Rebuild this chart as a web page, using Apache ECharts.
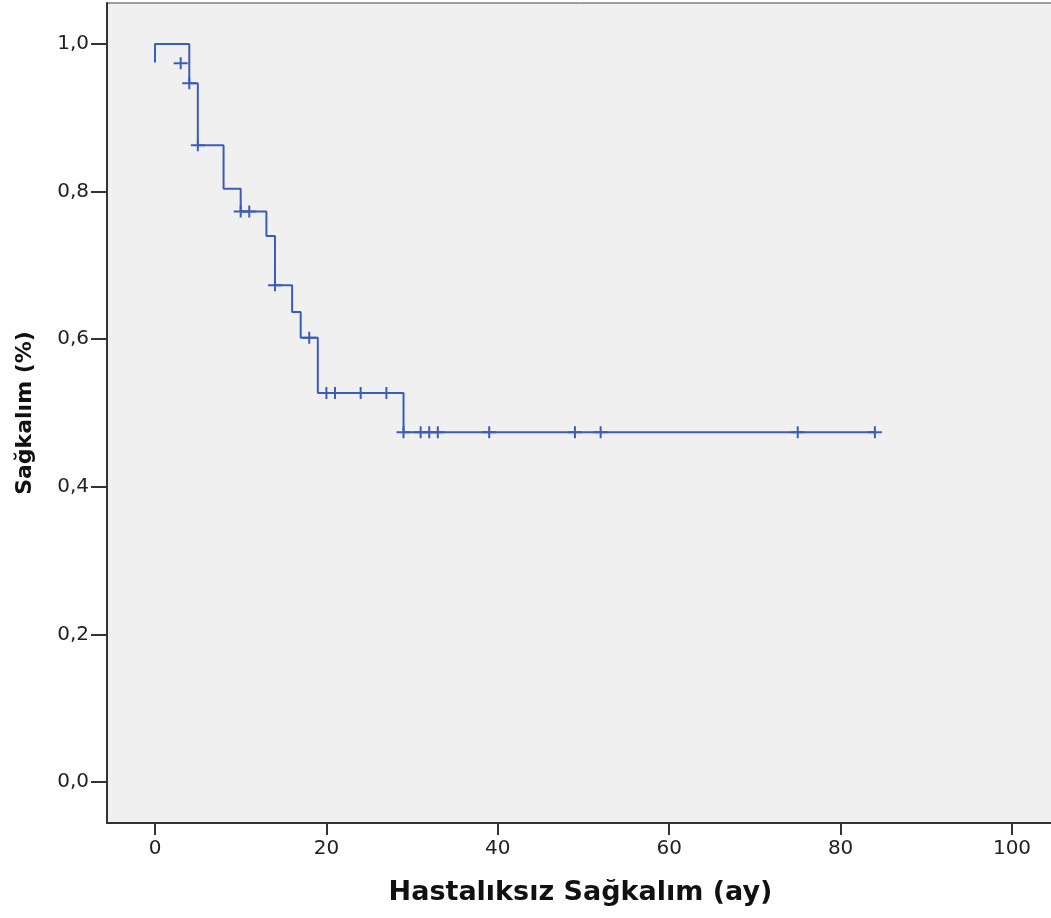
<!DOCTYPE html>
<html>
<head>
<meta charset="utf-8">
<script src="https://cdn.jsdelivr.net/npm/echarts@6/dist/echarts.min.js"></script>
<style>
html,body{margin:0;padding:0;background:#ffffff;overflow:hidden;}
#chart{width:1051px;height:918px;}
</style>
</head>
<body>
<div id="chart"></div>
<script>
// Kaplan-Meier step curve: event times (months) and survival after each step
var kmTimes = [0, 0, 4, 5, 8, 10, 13, 14, 16, 17, 19, 29, 84];
var kmSurv  = [0.975, 1.0, 0.947, 0.863, 0.804, 0.773, 0.740, 0.673, 0.637, 0.602, 0.527, 0.474, 0.474];

// Censored observations
var censorTimes = [3, 4, 5, 10, 11, 14, 18, 20, 21, 24, 27, 29, 31, 32, 33, 39, 49, 52, 75, 84];
var censorSurv  = [0.974, 0.947, 0.863, 0.773, 0.773, 0.673, 0.602, 0.527, 0.527, 0.527, 0.527,
                   0.474, 0.474, 0.474, 0.474, 0.474, 0.474, 0.474, 0.474, 0.474];

// Axis ticks
var xTicks = [0, 20, 40, 60, 80, 100];
var yTicks = [0, 0.2, 0.4, 0.6, 0.8, 1.0];

var xTitle = 'Hastalıksız Sağkalım (ay)';
var yTitle = 'Sağkalım (%)';

var lineColor = '#3d5cb6';

var kmData = kmTimes.map(function (t, i) { return [t, kmSurv[i]]; });
var censorData = censorTimes.map(function (t, i) { return [t, censorSurv[i]]; });

var chart = echarts.init(document.getElementById('chart'), null, {renderer: 'canvas'});
chart.setOption({
  animation: false,
  backgroundColor: '#ffffff',
  grid: {
    left: 107, right: -3, top: 3, bottom: 95,
    containLabel: false, outerBoundsMode: 'none',
    show: true, backgroundColor: '#f0f0f0', borderColor: '#444', borderWidth: 1
  },
  xAxis: {
    type: 'value',
    min: -5.6, max: 104.9,
    name: xTitle,
    nameLocation: 'middle',
    nameGap: 56,
    nameTextStyle: {fontFamily: 'DejaVu Sans', fontWeight: 'bold', fontSize: 27, color: '#111'},
    axisLine: {show: true, onZero: false, lineStyle: {color: '#333', width: 2}},
    axisTick: {show: true, length: 12, customValues: xTicks, lineStyle: {color: '#333', width: 2}},
    axisLabel: {customValues: xTicks, margin: 16, fontFamily: 'DejaVu Sans', fontSize: 20, color: '#222',
                formatter: function (v) { return String(v); }},
    splitLine: {show: false}
  },
  yAxis: {
    type: 'value',
    min: -0.0556, max: 1.0556,
    name: yTitle,
    nameLocation: 'middle',
    nameGap: 71,
    nameTextStyle: {fontFamily: 'DejaVu Sans', fontWeight: 'bold', fontSize: 22, color: '#111'},
    axisLine: {show: true, onZero: false, lineStyle: {color: '#333', width: 2}},
    axisTick: {show: true, length: 16, customValues: yTicks, lineStyle: {color: '#333', width: 2}},
    axisLabel: {customValues: yTicks, margin: 18, fontFamily: 'DejaVu Sans', fontSize: 20, color: '#222',
                formatter: function (v) { return v.toFixed(1).replace('.', ','); }},
    splitLine: {show: false}
  },
  series: [
    {
      type: 'line',
      data: kmData,
      step: 'end',
      showSymbol: false,
      symbol: 'none',
      lineStyle: {color: lineColor, width: 2},
      z: 2
    },
    {
      type: 'scatter',
      data: censorData,
      symbol: 'path://M0,5 H14 V7 H0 Z M6,0 H8 V12 H6 Z',
      symbolSize: [14, 12],
      itemStyle: {color: lineColor, opacity: 1},
      z: 3
    }
  ]
});
</script>
</body>
</html>
